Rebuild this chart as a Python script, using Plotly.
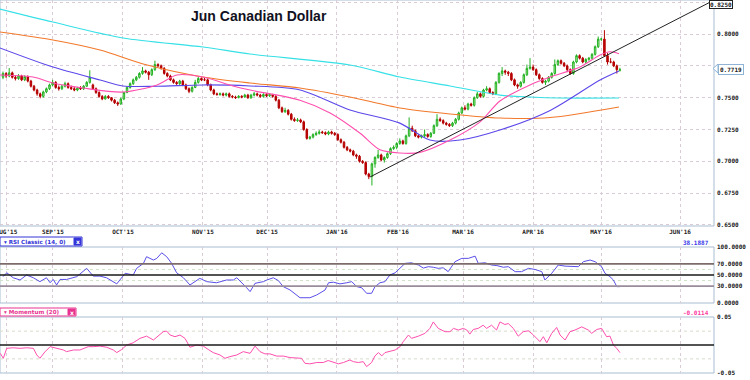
import plotly.graph_objects as go

W, H = 750, 380
PLOT_R = 714  # right edge of plot areas in px

# ---------------- data ----------------
month_labels = ["AUG'15", "SEP'15", "OCT'15", "NOV'15", "DEC'15", "JAN'16",
                "FEB'16", "MAR'16", "APR'16", "MAY'16", "JUN'16"]
month_bars = [1.1, 16.1, 38.7, 64.5, 85.2, 107.7, 127.4, 148.4, 171.0, 192.9, 218.4]

opens_pips = [
    7660, 7690, 7670, 7695, 7660, 7650, 7670, 7640, 7665, 7630,
    7590, 7560, 7530, 7510, 7545, 7570, 7600, 7620, 7580, 7570,
    7590, 7610, 7580, 7570, 7560, 7575, 7570, 7590, 7620, 7600,
    7570, 7540, 7510, 7490, 7510, 7500, 7480, 7460, 7450, 7490,
    7540, 7580, 7610, 7640, 7660, 7690, 7710, 7700, 7680, 7720,
    7760, 7750, 7730, 7690, 7670, 7640, 7620, 7610, 7630, 7600,
    7570, 7550, 7580, 7620, 7650, 7640, 7640, 7600, 7560, 7530,
    7525, 7530, 7520, 7530, 7510, 7505, 7500, 7510, 7505, 7520,
    7500, 7520, 7530, 7520, 7510, 7525, 7515, 7525, 7510, 7480,
    7420, 7390, 7400, 7370, 7330, 7320, 7325, 7310, 7250, 7180,
    7190, 7210, 7220, 7230, 7225, 7215, 7230, 7220, 7210, 7170,
    7150, 7110, 7090, 7080, 7050, 7040, 7000, 6990, 6900, 6880,
    6980, 7030, 7050, 7010, 7030, 7060, 7100, 7110, 7140, 7160,
    7140, 7200, 7260, 7240, 7200, 7190, 7200, 7210, 7195, 7220,
    7280, 7330, 7320, 7300, 7290, 7280, 7300, 7330, 7380, 7420,
    7410, 7450, 7440, 7500, 7530, 7510, 7560, 7570, 7540, 7530,
    7620, 7690, 7710, 7700, 7690, 7640, 7600, 7590, 7620, 7680,
    7730, 7740, 7720, 7680, 7650, 7620, 7630, 7660, 7690, 7760,
    7790, 7770, 7750, 7720, 7690, 7780, 7830, 7810, 7780, 7800,
    7810, 7840, 7900, 7960, 7960, 7830, 7780, 7780, 7750, 7715]

highs_pips = [
    7705, 7700, 7733, 7705, 7675, 7685, 7680, 7675, 7675, 7640,
    7600, 7570, 7540, 7555, 7580, 7610, 7640, 7630, 7595, 7600,
    7625, 7620, 7595, 7585, 7585, 7590, 7600, 7630, 7715, 7610,
    7580, 7550, 7520, 7520, 7520, 7505, 7490, 7470, 7500, 7545,
    7590, 7620, 7650, 7670, 7700, 7740, 7720, 7710, 7730, 7790,
    7770, 7760, 7740, 7700, 7680, 7650, 7630, 7640, 7640, 7610,
    7580, 7590, 7640, 7665, 7660, 7655, 7650, 7610, 7570, 7540,
    7540, 7540, 7540, 7540, 7520, 7515, 7520, 7520, 7530, 7530,
    7530, 7545, 7540, 7530, 7535, 7535, 7535, 7530, 7520, 7490,
    7430, 7420, 7410, 7380, 7345, 7340, 7335, 7320, 7260, 7200,
    7220, 7235, 7245, 7240, 7235, 7240, 7240, 7230, 7220, 7180,
    7160, 7120, 7100, 7090, 7060, 7050, 7010, 7000, 6910, 6990,
    7040, 7090, 7060, 7040, 7070, 7110, 7125, 7150, 7180, 7170,
    7210, 7345, 7280, 7250, 7210, 7210, 7250, 7220, 7230, 7290,
    7370, 7345, 7330, 7310, 7300, 7310, 7340, 7390, 7430, 7440,
    7460, 7460, 7510, 7545, 7540, 7570, 7590, 7580, 7550, 7630,
    7700, 7740, 7720, 7710, 7700, 7650, 7610, 7630, 7690, 7760,
    7810, 7760, 7730, 7690, 7660, 7640, 7670, 7700, 7800, 7800,
    7800, 7780, 7760, 7730, 7790, 7840, 7840, 7820, 7810, 7820,
    7850, 7910, 7980, 7970, 8030, 7850, 7810, 7790, 7760, 7735]

lows_pips = [
    7645, 7655, 7660, 7650, 7635, 7640, 7630, 7630, 7620, 7580,
    7550, 7515, 7495, 7500, 7535, 7560, 7590, 7570, 7555, 7560,
    7580, 7570, 7560, 7550, 7550, 7560, 7560, 7585, 7610, 7560,
    7530, 7500, 7480, 7485, 7490, 7470, 7450, 7435, 7445, 7480,
    7535, 7570, 7600, 7630, 7650, 7680, 7690, 7640, 7670, 7710,
    7740, 7720, 7680, 7660, 7630, 7610, 7600, 7600, 7590, 7560,
    7535, 7540, 7575, 7610, 7630, 7630, 7590, 7550, 7520, 7515,
    7515, 7510, 7510, 7500, 7495, 7490, 7495, 7495, 7500, 7490,
    7490, 7510, 7510, 7500, 7500, 7505, 7505, 7500, 7470, 7410,
    7380, 7380, 7360, 7320, 7310, 7310, 7300, 7240, 7170, 7170,
    7180, 7200, 7210, 7215, 7205, 7205, 7210, 7200, 7160, 7140,
    7100, 7080, 7070, 7040, 7020, 6990, 6980, 6890, 6860, 6810,
    6950, 7020, 7000, 6990, 7020, 7050, 7090, 7095, 7130, 7130,
    7130, 7190, 7230, 7190, 7180, 7180, 7190, 7185, 7185, 7215,
    7270, 7310, 7290, 7280, 7270, 7270, 7290, 7320, 7370, 7400,
    7400, 7430, 7430, 7490, 7500, 7500, 7550, 7530, 7520, 7520,
    7610, 7670, 7680, 7670, 7630, 7590, 7570, 7580, 7610, 7670,
    7720, 7710, 7670, 7640, 7610, 7600, 7620, 7650, 7680, 7750,
    7760, 7740, 7700, 7680, 7680, 7770, 7800, 7770, 7770, 7790,
    7800, 7830, 7890, 7945, 7820, 7760, 7770, 7740, 7690, 7705]

closes_pips = [
    7690, 7670, 7695, 7660, 7650, 7670, 7640, 7665, 7630, 7590,
    7560, 7530, 7510, 7545, 7570, 7600, 7620, 7580, 7570, 7590,
    7610, 7580, 7570, 7560, 7575, 7570, 7590, 7620, 7660, 7570,
    7540, 7510, 7490, 7510, 7500, 7480, 7460, 7450, 7490, 7540,
    7580, 7610, 7640, 7660, 7690, 7710, 7700, 7680, 7720, 7760,
    7750, 7730, 7690, 7670, 7640, 7620, 7610, 7630, 7600, 7570,
    7550, 7580, 7620, 7650, 7640, 7640, 7600, 7560, 7530, 7525,
    7530, 7520, 7530, 7510, 7505, 7500, 7510, 7505, 7520, 7500,
    7520, 7530, 7520, 7510, 7525, 7515, 7525, 7510, 7480, 7420,
    7390, 7400, 7370, 7330, 7320, 7325, 7310, 7250, 7180, 7190,
    7210, 7220, 7230, 7225, 7215, 7230, 7220, 7210, 7170, 7150,
    7110, 7090, 7080, 7050, 7040, 7000, 6990, 6900, 6880, 6980,
    7030, 7050, 7010, 7030, 7060, 7100, 7110, 7140, 7160, 7140,
    7200, 7260, 7240, 7200, 7190, 7200, 7210, 7195, 7220, 7280,
    7330, 7320, 7300, 7290, 7280, 7300, 7330, 7380, 7420, 7410,
    7450, 7440, 7500, 7530, 7510, 7560, 7570, 7540, 7530, 7620,
    7690, 7710, 7700, 7690, 7640, 7600, 7590, 7620, 7680, 7730,
    7740, 7720, 7680, 7650, 7620, 7630, 7660, 7690, 7760, 7790,
    7770, 7750, 7720, 7690, 7780, 7830, 7810, 7780, 7800, 7810,
    7840, 7900, 7960, 7960, 7830, 7780, 7780, 7750, 7720, 7719]

# moving averages (bar position, price)
ma_cyan_x = [-1, 16.1, 38.7, 64.5, 79.7, 111.9, 128, 144.2, 160.3, 170, 179.7, 198.7]
ma_cyan_y = [0.8196, 0.8094, 0.7969, 0.7898, 0.7843, 0.7756, 0.7662, 0.7592, 0.7520, 0.7505, 0.7497, 0.7497]

ma_orange_x = [-1, 16.1, 31.3, 46.5, 64.5, 79.7, 95.8, 111.9, 128, 144.2, 160.3, 176.5, 198.7]
ma_orange_y = [0.8016, 0.7953, 0.7874, 0.7756, 0.7662, 0.7615, 0.7576, 0.7505, 0.7419, 0.7372, 0.7340, 0.7344, 0.7427]

ma_blue_x = [-1, 16.1, 31.3, 38.7, 49.7, 64.5, 79.7, 95.8, 111.9, 128, 137.7, 147.4, 160.3, 176.5, 192.6, 198.7]
ma_blue_y = [0.7890, 0.7740, 0.7639, 0.7592, 0.7590, 0.7600, 0.7592, 0.7560, 0.7403, 0.7300, 0.7167, 0.7167, 0.7246, 0.7400, 0.7639, 0.7710]

ma_pink_x = [-1, 9.7, 16.1, 25.8, 38.7, 49.7, 56.1, 64.5, 74.2, 79.7, 95.8, 105.5, 115.2, 121.6, 128,
             134.5, 144.2, 153.9, 160.3, 170, 176.5, 186.1, 192.6, 195.8, 198.7]
ma_pink_y = [0.7678, 0.7662, 0.7615, 0.7576, 0.7544, 0.7600, 0.7678, 0.7662, 0.7592, 0.7560, 0.7480, 0.7380,
             0.7220, 0.7090, 0.7065, 0.7070, 0.7167, 0.7310, 0.7474, 0.7600, 0.7662, 0.7740, 0.7835, 0.7860, 0.7845]

trend_x = [118.4, 228.1]
trend_y = [0.6877, 0.8250]

rsi_x = [0, 1.2, 3.3, 5.5, 7.6, 9.8, 11.9, 14, 15.2, 16.2,
         17.3, 18.4, 20.5, 23.8, 27, 29.1, 31.3, 33.4, 36.7, 39.4,
         42, 43.1, 45.3, 46.3, 48.5, 49.6, 51.2, 52.8, 54.4, 56,
         58.2, 60.3, 63.5, 65.7, 68.9, 70.5, 72.1, 74.3, 75.4, 78.6,
         79.7, 81.3, 84, 85.1, 87.2, 88.8, 90.4, 92.6, 95.8, 99,
         101.2, 103.9, 105, 106.6, 108.7, 110.9, 112.5, 114.1, 115.7, 117.3,
         118.9, 120, 121.6, 123.2, 124.8, 126.5, 128, 129.7, 131.8, 134,
         135.6, 137.2, 138.8, 140.4, 142, 143.6, 145.8, 148, 150.1, 152.3,
         153.3, 155.5, 157.6, 159.3, 161.4, 163, 165.2, 167.3, 169.5, 171.6,
         173.8, 174.8, 177, 179.1, 181.3, 183.4, 185.6, 187.2, 189.4, 191,
         193.1, 194.2, 195.8, 196.9, 198, 199]
rsi_y = [47, 54, 45, 41, 50, 45, 38, 45, 36, 42,
         32, 42, 42, 47, 62, 48, 48, 45, 34, 53,
         50, 62, 71, 83, 77, 80, 90, 83, 71, 54,
         45, 32, 44, 38, 36, 38, 41, 41, 45, 27,
         20, 35, 38, 41, 45, 40, 29, 23, 9, 9,
         14, 23, 36, 37, 34, 36, 38, 29, 27, 17,
         17, 29, 36, 38, 50, 54, 62.5, 71, 72, 68,
         62.5, 65, 64, 62, 63, 56, 74, 80, 80, 84,
         71, 72, 68, 67, 64, 65, 56, 56, 62, 60,
         56, 41, 53, 68, 66, 66, 65, 74, 77, 74,
         65, 53, 47, 41, 29, 29]

mom_x = [-0.9, 0.1, 1.2, 3.3, 5.5, 7.6, 9.8, 10.9, 11.9, 13.5,
         15.2, 17.3, 19.5, 20.5, 22.7, 24.8, 27.5, 29.1, 31.3, 33.4,
         35.6, 36.7, 38.3, 39.9, 42, 44.2, 46.3, 48.5, 50.1, 51.7,
         52.8, 53.9, 55.5, 57.1, 58.7, 60.3, 62.5, 64.6, 66.2, 67.8,
         70, 71.6, 73.2, 75.4, 77.5, 79.7, 81.3, 82.9, 84.5, 86.1,
         88.3, 90.4, 92.6, 94.7, 96.3, 97.4, 99, 101.2, 103.3, 104.9,
         106.6, 108.2, 109.8, 111.9, 113, 114.6, 116.2, 117.3, 118.9, 120,
         121.1, 122.2, 123.2, 124.8, 126.5, 128.1, 129.1, 130.8, 131.8, 134,
         136.1, 137.7, 138.8, 140.4, 142.6, 144.2, 145.3, 146.9, 148.5, 149.6,
         150.6, 151.7, 153.3, 154.9, 156, 157.6, 159.2, 160.3, 161.9, 163,
         164.6, 166.2, 167.8, 169.5, 171.1, 173.2, 174.3, 175.4, 177, 178.6,
         179.7, 181.3, 182.9, 184.5, 186.7, 188.8, 189.9, 191.5, 193.1, 194.7,
         195.8, 196.9, 198, 199]
mom_y = [-0.015, -0.024, -0.006, -0.005, -0.006, -0.005, -0.006, -0.018, -0.024, -0.0125,
         -0.003, -0.006, -0.009, -0.012, -0.009, -0.009, -0.003, -0.003, -0.002, -0.004,
         -0.009, -0.0137, -0.008, 0.0, 0.004, 0.012, 0.016, 0.009, 0.016, 0.024,
         0.025, 0.018, 0.015, 0.018, 0.012, -0.004, 0.0, -0.002, -0.008, -0.0137,
         -0.018, -0.024, -0.021, -0.018, -0.012, -0.015, -0.002, -0.012, -0.016, -0.016,
         -0.020, -0.020, -0.0227, -0.024, -0.024, -0.033, -0.034, -0.0316, -0.0316, -0.028,
         -0.0316, -0.034, -0.0316, -0.027, -0.030, -0.0316, -0.030, -0.039, -0.0316, -0.0196,
         -0.0137, -0.0196, -0.0137, -0.012, -0.009, -0.003, 0.006, 0.018, 0.012, 0.016,
         0.021, 0.030, 0.0416, 0.030, 0.024, 0.024, 0.030, 0.027, 0.030, 0.027,
         0.0196, 0.028, 0.030, 0.0357, 0.030, 0.0357, 0.027, 0.0416, 0.037, 0.0387,
         0.030, 0.016, 0.024, 0.0256, 0.018, 0.006, 0.015, 0.004, 0.021, 0.0316,
         0.018, 0.009, 0.024, 0.027, 0.0327, 0.027, 0.021, 0.028, 0.030, 0.015,
         0.016, 0.0, -0.006, -0.0137]

price_ticks = [0.650, 0.675, 0.700, 0.725, 0.750, 0.775, 0.800, 0.825]
price_tick_text = ["0.6500", "0.6750", "0.7000", "0.7250", "0.7500", "", "0.8000", ""]
rsi_ticks = [0, 30, 50, 70, 100]
mom_ticks = [-0.05, 0.05]
last_price_text = "0.7719"
trend_end_text = "0.8250"
rsi_last_text = "38.1887"
mom_last_text = "-0.0114"

PIP = 1e-4
opens = [v * PIP for v in opens_pips]
highs = [v * PIP for v in highs_pips]
lows = [v * PIP for v in lows_pips]
closes = [v * PIP for v in closes_pips]
bars = list(range(len(closes)))

# ---------------- geometry helpers ----------------
def py(y):          # pixel row -> paper y
    return 1 - y / H

def px(x):          # pixel col -> paper x
    return x / PLOT_R

X_RANGE = [-0.97, 229.35]
MAIN_DOM = [py(226), py(0)]
RSI_DOM = [py(303), py(247)]
MOM_DOM = [py(373), py(317)]

GRID = "#d9ccd6"
BORDER = "#a9bdd2"
mono = dict(family="DejaVu Sans Mono", size=6, color="#1a1a1a", weight="bold")

fig = go.Figure()

# moving averages first (behind candles)
for xs, ys, col in [(ma_cyan_x, ma_cyan_y, "#35e0e6"),
                    (ma_orange_x, ma_orange_y, "#f2782a"),
                    (ma_blue_x, ma_blue_y, "#5b48ea"),
                    (ma_pink_x, ma_pink_y, "#ff4fae")]:
    fig.add_trace(go.Scatter(x=xs, y=ys, mode="lines", line=dict(color=col, width=1.1, shape="spline", smoothing=0.8),
                             xaxis="x", yaxis="y", hoverinfo="skip", showlegend=False))

fig.add_trace(go.Candlestick(
    x=bars, open=opens, high=highs, low=lows, close=closes,
    increasing=dict(line=dict(color="#22b022", width=1), fillcolor="#b8f0a8"),
    decreasing=dict(line=dict(color="#b40000", width=1), fillcolor="#c00000"),
    whiskerwidth=0, xaxis="x", yaxis="y", showlegend=False, hoverinfo="skip"))

fig.add_trace(go.Scatter(x=trend_x, y=trend_y, mode="lines", line=dict(color="#222222", width=1),
                         xaxis="x", yaxis="y", hoverinfo="skip", showlegend=False))

fig.add_trace(go.Scatter(x=rsi_x, y=rsi_y, mode="lines", line=dict(color="#5a4fe8", width=1),
                         xaxis="x2", yaxis="y2", hoverinfo="skip", showlegend=False))
fig.add_trace(go.Scatter(x=mom_x, y=mom_y, mode="lines", line=dict(color="#ff4fae", width=1),
                         xaxis="x3", yaxis="y3", hoverinfo="skip", showlegend=False))

xcommon = dict(range=X_RANGE, domain=[0, 1], tickvals=month_bars, showgrid=True, gridcolor=GRID,
               griddash="dot", gridwidth=1, zeroline=False, showline=False, ticks="",
               fixedrange=True, automargin=False)
ycommon = dict(side="right", showline=False, zeroline=False, ticks="", ticklabelstandoff=2,
               automargin=False, fixedrange=True, tickfont=mono, ticklabeloverflow="allow")

fig.update_layout(
    width=W, height=H, margin=dict(l=0, r=W - PLOT_R, t=0, b=0, pad=0),
    paper_bgcolor="white", plot_bgcolor="white", showlegend=False,
    xaxis=dict(xcommon, anchor="y", ticktext=month_labels, showticklabels=True,
               tickfont=dict(family="DejaVu Sans Mono", size=6, color="#222", weight="bold"),
               rangeslider=dict(visible=False), ticklabelstandoff=1, ticklabeloverflow="allow"),
    xaxis2=dict(xcommon, anchor="y2", showticklabels=False),
    xaxis3=dict(xcommon, anchor="y3", showticklabels=False),
    yaxis=dict(ycommon, domain=MAIN_DOM, range=[0.6492, 0.8267], anchor="x",
               tickvals=price_ticks, ticktext=price_tick_text,
               showgrid=True, gridcolor=GRID, griddash="dot"),
    yaxis2=dict(ycommon, domain=RSI_DOM, range=[-0.5, 100.5], anchor="x2",
                tickvals=rsi_ticks, tickformat=".4f", showgrid=False),
    yaxis3=dict(ycommon, domain=MOM_DOM, range=[-0.0505, 0.0505], anchor="x3",
                tickvals=mom_ticks, ticktext=["-0.05", "0.05"], showgrid=False),
)

shapes = []
# panel borders
for xr, yr in [("x domain", "y domain"), ("x2 domain", "y2 domain"), ("x3 domain", "y3 domain")]:
    shapes.append(dict(type="rect", xref=xr, yref=yr, x0=0, x1=1, y0=0, y1=1,
                       line=dict(color=BORDER, width=1), layer="below"))
# RSI dotted guides and level lines
for lv in [40, 60]:
    shapes.append(dict(type="line", xref="x2 domain", yref="y2", x0=0, x1=1, y0=lv, y1=lv,
                       line=dict(color="#cfe3c8", width=1, dash="dot"), layer="below"))
shapes.append(dict(type="line", xref="x2 domain", yref="y2", x0=0, x1=1, y0=70, y1=70,
                   line=dict(color="#7d6b6b", width=1.6)))
shapes.append(dict(type="line", xref="x2 domain", yref="y2", x0=0, x1=1, y0=50, y1=50,
                   line=dict(color="#1a1a1a", width=1.3)))
shapes.append(dict(type="line", xref="x2 domain", yref="y2", x0=0, x1=1, y0=30, y1=30,
                   line=dict(color="#9a8c9c", width=1.8)))
# momentum guides
for lv in [-0.025, 0.025]:
    shapes.append(dict(type="line", xref="x3 domain", yref="y3", x0=0, x1=1, y0=lv, y1=lv,
                       line=dict(color="#d6dccb", width=1, dash="dot"), layer="below"))
shapes.append(dict(type="line", xref="x3 domain", yref="y3", x0=0, x1=1, y0=0, y1=0,
                   line=dict(color="#1a1a1a", width=1.3)))

# indicator header boxes
def header(x1, y0, y1, col, text):
    shapes.append(dict(type="rect", xref="paper", yref="paper", x0=px(0), x1=px(x1), y0=py(y1), y1=py(y0),
                       line=dict(color=col, width=1), fillcolor="white"))
    shapes.append(dict(type="rect", xref="paper", yref="paper", x0=px(x1 - 8), x1=px(x1 - 1),
                       y0=py(y1 - 1), y1=py(y0 + 1), line=dict(color=col, width=1), fillcolor=col))
    fig.add_annotation(xref="paper", yref="paper", x=px(2), y=py((y0 + y1) / 2), xanchor="left",
                       yanchor="middle", showarrow=False, text="\u25BE " + text,
                       font=dict(family="DejaVu Sans", size=5.6, color=col, weight="bold"))
    fig.add_annotation(xref="paper", yref="paper", x=px(x1 - 4.5), y=py((y0 + y1) / 2), xanchor="center",
                       yanchor="middle", showarrow=False, text="x",
                       font=dict(family="DejaVu Sans", size=6, color="white", weight="bold"))

header(82, 237, 246, "#3434d8", "RSI Classic (14, 0)")
header(76, 308, 316, "#e8338f", "Momentum (20)")

# last price marker
shapes.append(dict(type="path", xref="paper", yref="paper",
                   path=f"M {px(713)},{py(68.5)} L {px(718)},{py(64)} L {px(718)},{py(73)} Z",
                   line=dict(color="#8fb3d4", width=1), fillcolor="white"))
fig.add_annotation(xref="paper", yref="y", x=px(718), y=closes[-1], xanchor="left", yanchor="middle",
                   showarrow=False, text=last_price_text, bgcolor="white", bordercolor="#8fb3d4",
                   borderwidth=1, borderpad=1, font=mono)
# trendline end label
fig.add_annotation(xref="paper", yref="paper", x=px(709), y=1, xanchor="left", yanchor="top",
                   showarrow=False, text=trend_end_text, bgcolor="white", bordercolor="#222",
                   borderwidth=1, borderpad=0, font=mono)
# indicator last values
fig.add_annotation(xref="paper", yref="paper", x=px(711), y=py(242), xanchor="right", yanchor="middle",
                   showarrow=False, text=rsi_last_text, font=dict(mono, color="#3a3ae8"))
fig.add_annotation(xref="paper", yref="paper", x=px(711), y=py(312), xanchor="right", yanchor="middle",
                   showarrow=False, text=mom_last_text, font=dict(mono, color="#ff3aa0"))
# title
fig.add_annotation(xref="paper", yref="paper", x=px(258.5), y=py(16), xanchor="center", yanchor="middle",
                   showarrow=False, text="Jun Canadian Dollar",
                   font=dict(family="Liberation Sans", size=14, color="#111122", weight="bold"))

fig.update_layout(shapes=shapes)
fig.write_html("out.html", config={"displayModeBar": False},
               post_script="document.body.style.margin='0';document.body.style.padding='0';")
